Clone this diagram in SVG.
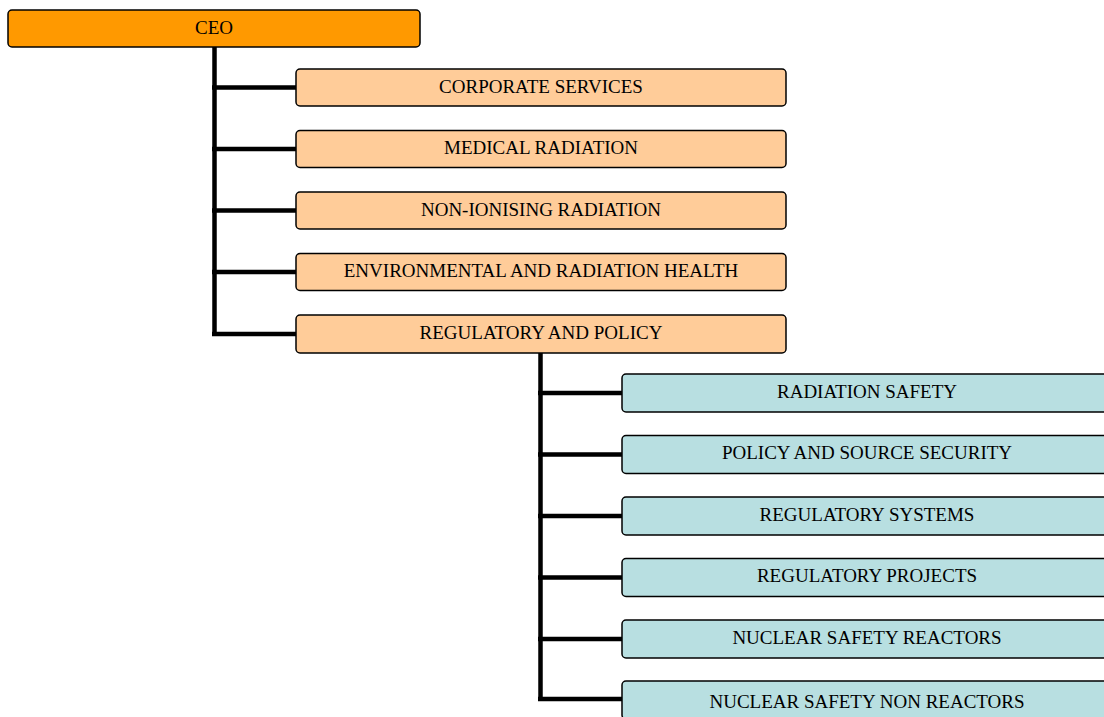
<svg xmlns="http://www.w3.org/2000/svg" width="1104" height="717" viewBox="0 0 1104 717">
<style>
.box{stroke:#000;stroke-width:1.5}
.ceo{fill:#FF9900}
.l2{fill:#FFCC99}
.l3{fill:#B8DFE1}
text{font-family:"Liberation Serif","Times New Roman",serif;font-size:19px;fill:#000;text-anchor:middle;dominant-baseline:central}
.c{fill:none;stroke:#000;stroke-width:4.5}
</style>
<rect width="1104" height="717" fill="#fff"/>
<g id="connectors">
<path class="c" d="M214.5 47 V334 M212 87.5 H297 M212 149 H297 M212 210.5 H297 M212 272 H297 M212 334 H297"/>
<path class="c" d="M540.5 353 V699 M538 393 H623 M538 454.5 H623 M538 516 H623 M538 577.5 H623 M538 639 H623 M538 699 H623"/>
</g>
<g id="ceo"><rect class="box ceo" x="8" y="10" width="412" height="37" rx="4"/><text x="214" y="27">CEO</text></g>
<g id="corporate-services"><rect class="box l2" x="296" y="69" width="490" height="37" rx="4"/><text x="541" y="86">CORPORATE SERVICES</text></g>
<g id="medical-radiation"><rect class="box l2" x="296" y="130.5" width="490" height="37" rx="4"/><text x="541" y="147.5">MEDICAL RADIATION</text></g>
<g id="non-ionising-radiation"><rect class="box l2" x="296" y="192" width="490" height="37" rx="4"/><text x="541" y="209">NON-IONISING RADIATION</text></g>
<g id="environmental"><rect class="box l2" x="296" y="253.5" width="490" height="37" rx="4"/><text x="541" y="270.5">ENVIRONMENTAL AND RADIATION HEALTH</text></g>
<g id="regulatory-policy"><rect class="box l2" x="296" y="315" width="490" height="38" rx="4"/><text x="541" y="332">REGULATORY AND POLICY</text></g>
<g id="radiation-safety"><rect class="box l3" x="622" y="374" width="490" height="38" rx="4"/><text x="867" y="391">RADIATION SAFETY</text></g>
<g id="policy-source-security"><rect class="box l3" x="622" y="435.5" width="490" height="38" rx="4"/><text x="867" y="452.5">POLICY AND SOURCE SECURITY</text></g>
<g id="regulatory-systems"><rect class="box l3" x="622" y="497" width="490" height="38" rx="4"/><text x="867" y="514">REGULATORY SYSTEMS</text></g>
<g id="regulatory-projects"><rect class="box l3" x="622" y="558.5" width="490" height="38" rx="4"/><text x="867" y="575.5">REGULATORY PROJECTS</text></g>
<g id="nuclear-safety-reactors"><rect class="box l3" x="622" y="620" width="490" height="38" rx="4"/><text x="867" y="637">NUCLEAR SAFETY REACTORS</text></g>
<g id="nuclear-safety-non-reactors"><rect class="box l3" x="622" y="681" width="490" height="38" rx="4"/><text x="867" y="701">NUCLEAR SAFETY NON REACTORS</text></g>
</svg>
